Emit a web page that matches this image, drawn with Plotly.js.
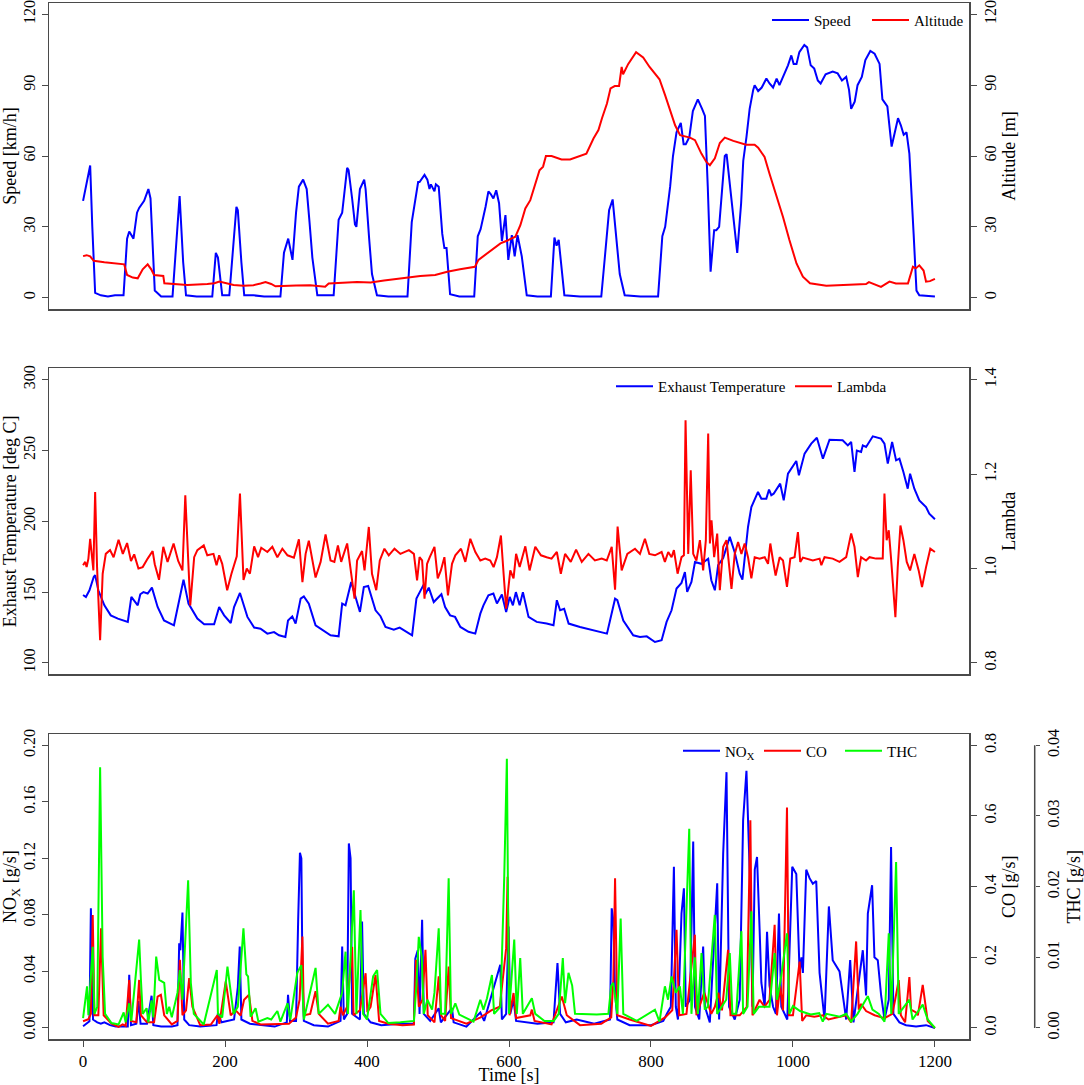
<!DOCTYPE html>
<html>
<head>
<meta charset="utf-8">
<script src="https://cdn.plot.ly/plotly-3.0.1.min.js"></script>
<style>
  body { margin: 0; background: #fff; }
  #plot { width: 1084px; height: 1085px; }
</style>
</head>
<body>
<div id="plot"></div>
<script>
// ---- panel 1: speed and altitude ----
var speedT = [0,4,10,13,17,25,35,45,57,62,65,71,76,79,86,92,95,101,110,126,136,141,145,160,182,187,190,196,206,216,218,223,227,240,255,278,283,289,295,300,304,310,315,319,323,330,345,353,360,365,372,374,379,383,385,390,396,398,403,407,414,430,445,457,463,468,472,474,481,485,488,490,495,497,501,506,509,512,517,530,551,556,560,567,571,574,578,582,586,590,595,599,604,608,612,618,625,640,659,664,667,670,678,700,730,735,741,746,752,756,763,785,810,816,820,827,831,836,842,846,849,854,859,866,872,876,880,884,889,892,896,900,904,906.5,911,915.6,921.5,927,930,934.5,939,944,946,951,956,962.6,967,972,977,981,986,993,997.7,1001,1005,1009,1016,1020,1025,1030,1035,1039,1046,1056,1063,1069,1075,1079,1082,1087,1091,1097,1102,1109,1115,1122,1126,1133,1139,1143,1148,1152,1156,1160,1164,1170,1174,1178,1190,1200];
var speedV = [41,47,56,30,2,1,0.5,1,1,25,28,25,36,38,41,46,42,3,0.5,0.5,43,15,1,0.5,0.5,19,17,1,1,38.5,37,15,1,1,0.5,0.5,19,25,16,36,47,50,46,32,17,1,1,1,33,36,55,54,42,31,30,46,50,46,25,10,1,0.5,0.5,0.5,32,41,49,49,52,50,46,48,45,48,47,27,21,21,1.5,0.5,0.5,26,29,38.5,45,44,42,45.5,40,24,35,16,26.5,17.5,26.5,17.5,1,0.5,0.5,25.5,22,24.5,1,0.5,0.5,17,37,41.6,24,10,1,0.5,0.5,26,30,47,60,70,74,65,65,68,79,84,80,77,47,11,28.6,28.6,30,45,60,60.8,48,36,19,40,58,68,80,88,90,87.5,89,92.8,90.7,89,92.8,90,93.5,98.4,102.6,99,99,104,107,106,98.4,97,92,90.7,94.6,95.8,95,92,93.5,88,80,83,90,93.5,100.6,104.5,103.3,99,84,81,64,69.5,76,73,69,70,61,27,3,1,0.8,0.5];
var altT = [0,5,10,15,30,58,62,70,77,84,91,96,100,113,114.5,147,175,185,192,200,212,226,231,240,250,257,265,271,300,320,341,346,386,405,424,447,456,475,496,513,531,552,557,569,588,597,609,616,623,630,636,643,648,652,660,674,686,709,719,726,731,738,743,749,755,758.7,760.7,768,779,789,798,808,812,820,827,834,841,855,862,871,878,883,890,897,904,916,934,946,951,960,967,979,986,995,1005,1014,1024,1047,1075,1103,1107,1124,1136,1145,1162,1169,1173,1178,1184,1187.5,1193,1200];
var altV = [17.6,18,17.5,15.6,15,14.1,9.6,8.5,8.2,12,14.1,12,9.6,9.2,6.1,5.4,5.8,6.1,6.8,6.3,5.4,5.0,5,5.3,6,6.6,5.8,4.8,5.2,5.3,4.6,6.0,6.6,6.4,7.3,8.2,8.5,9.2,9.6,11,12,13.1,16,18.8,23,24.1,25.8,30.7,37.8,41.3,47,54,55.5,60,60,58.5,58.5,61,67.4,71,76,82.2,88.6,89.6,89.6,97.7,94.6,99,104,101.7,97.7,93.7,92.5,85.7,79.4,73,68.8,67.8,66.7,61,57.5,56.1,59,65.5,67.8,66.4,64.8,64.8,63.5,59.6,52.5,41.3,34.2,24.4,14.5,8.9,6.1,5.0,5.3,5.8,6.6,4.6,6.8,6,6,13.1,12.4,13.7,11.5,6.8,7,8];

// ---- panel 2: exhaust temperature and lambda ----
var tempT = [0,4,9,15,17,21.5,30,39,49,63,68,77,80.6,85,91,97,105,114,128,138,141.5,148.5,161,170.6,184.6,191.7,198.7,208,212.7,221,231.5,241,250,259.6,269,276,285,288.7,294.7,299.4,306.5,311,318,327.5,339,348.6,360,365,369.7,377.7,383.8,390,395.5,401.6,412,419,426,437.7,446,456.5,463.5,469.6,475,480,482,487,494,498.7,504.8,510,517,524,531.5,543,552.5,559.6,564,571,578,583,590,596,601,605.5,609.7,615,619.6,627.5,639,653,662.7,667.4,672,677.7,684,700,719,738,742.3,749.4,752.6,761,775,784.5,794,805.6,815,822,829,836,843,847.8,851,857,862,871,880.6,885,890,894.6,901.7,911,918,925,928.8,936.7,941.4,950.8,955.5,962.5,966.3,969.5,972.8,977.5,982,987,993,1004.7,1008.4,1016.4,1025.8,1033.7,1042.2,1051.5,1070,1077.3,1082,1086.7,1090,1096,1098.4,1103,1112.5,1124,1128.9,1133.6,1139.7,1145.3,1150,1155.6,1161.7,1165,1171,1178,1187.5,1192,1200];
var tempV = [148,146.6,151.3,160.7,162,151.3,140.7,133.6,131.3,129,146.6,140.7,148.5,150,149,153.2,139.5,130,126.6,152.5,158.8,141.9,131.3,127.3,127.3,139.5,133.6,128.2,139.5,149.4,132.5,125,124.2,120.7,121.8,119.5,118.3,130,132.9,127.8,145.4,147,141.9,126.6,123,119.5,118.8,141.9,140.7,157.2,146.6,136,153.6,154.3,137.2,133,125.4,123.5,125,122,119.5,145.4,151.3,155.5,148.5,153.2,143,145.4,148.5,139.5,133.6,132.5,125.4,122,120.7,134.8,140.7,147.8,149,142,148.3,136,146.6,140.7,150,140.7,150,132.5,129,127.8,126.6,144.3,137.2,138.3,127.8,125.4,123,120.7,130,145.4,144.3,130,119.5,118.3,118.8,114.8,116,129,137.2,152.5,156.5,164.2,150.2,157.2,171.3,170,173.6,158.4,151.3,169,174,189,178,163,158.8,196,210,220.7,216,216,222.4,218.4,219.5,223,226.6,214.8,233.6,242.6,232.5,247.8,254.8,259,244.2,257.6,257.2,253.6,256,234.8,250,249,253.6,252.5,260,258.4,254.8,240.7,256,243,244.2,234.8,223,233.6,223,214.8,210,205.4,201.4];
var lamT = [0,3,5,7.5,10,12,14.5,17,19.7,24,27.6,32,38,43,50,56,62,67.5,72,78,84,91,98,101,107,113,119,127.5,134,140,144,151,156.5,161,170,175,183.7,188,191.7,196,203,209,216.5,221,226,230.6,235,241,246.5,251,259.6,266.6,273.7,280.7,288,297,301,304,309,313.5,318,323,327.5,334.6,341.6,348.6,354,359,363.6,372,379,382.4,386,393,396.5,402.5,407,413,418,424.5,430.6,438.7,447,459,466,470.5,474,477.6,481,484.6,488.4,495,499.6,504,509,514,519.7,524.4,532.4,538.5,545.5,552.6,559.6,566.6,573.6,578.3,583,588.6,592.4,596,601.8,606.4,610,615,623,629,637,645,653,660,667.4,673,679,687,694.5,702.5,711.9,721,730.6,737.7,744.7,749.4,753,758.7,766.7,777.5,784.5,791.5,797.6,805.6,815,819.6,824.3,829,832.3,837.5,843,846.4,848.7,852.5,856,859.5,864,868.9,873.5,877.3,880.6,883,885.3,889,893.3,897,901.7,906.4,913.4,918,922.7,927.4,932,936.7,941.4,946.1,953,960.2,964.9,968.1,971.9,975.6,981.3,986,991.6,996.3,1002.3,1007,1010.3,1014,1028,1037.5,1040,1044.5,1056,1065.6,1075,1082,1086.7,1091.4,1096,1103,1107.8,1117,1126.5,1128.9,1132,1135,1138.2,1144.3,1147.6,1151.4,1155.6,1160.3,1165,1171,1177.1,1181.8,1187.5,1193.5,1200];
var lamV = [1.007,1.014,1.003,1.021,1.063,1.031,0.996,1.162,1.003,0.848,0.989,1.031,1.039,1.024,1.061,1.031,1.054,1.016,1.030,1.0,1.003,1.021,1.037,1.009,0.976,1.046,1.014,1.053,1.016,0.996,1.155,0.922,1.024,1.039,1.049,1.028,1.031,1.007,1.028,1.010,0.954,0.989,1.026,1.159,0.976,1.0,0.989,1.047,1.024,1.044,1.035,1.046,1.024,1.042,1.028,1.023,1.047,1.062,0.971,1.031,1.059,1.017,0.981,1.014,1.072,1.017,1.014,1.049,1.014,1.053,0.975,0.936,1.017,1.037,0.996,1.088,0.989,0.954,1.017,1.042,1.028,1.042,1.031,1.039,1.031,0.975,1.024,1.017,0.936,1.010,1.024,1.046,0.979,0.996,1.024,0.943,1.010,1.028,1.042,1.014,1.063,1.035,1.017,1.021,1.017,1.003,1.024,1.070,0.989,0.915,0.996,0.979,1.031,1.003,1.047,0.996,1.046,1.028,1.024,1.021,1.035,0.989,1.031,1.014,1.040,1.014,1.031,1.017,1.021,1.017,1.046,0.955,1.089,0.996,1.031,1.042,1.031,1.063,1.031,1.028,1.035,1.014,1.035,1.024,1.039,0.989,1.024,1.028,1.314,1.031,1.208,1.031,1.017,1.060,0.996,1.060,1.286,1.053,1.102,1.024,1.074,0.954,1.046,1.060,0.957,1.031,1.056,1.031,1.053,1.024,0.979,1.024,1.021,1.024,1.010,1.053,1.017,0.985,1.024,1.017,0.961,1.021,1.024,1.077,1.014,1.023,1.017,1.021,1.007,1.024,1.021,1.014,1.024,1.074,1.046,0.982,1.024,1.017,1.024,1.021,1.021,1.159,1.060,1.081,1.021,0.897,1.003,1.091,1.060,1.014,0.996,1.031,0.996,0.961,1.003,1.042,1.035];

// ---- panel 3: emissions ----
var noxT = [0,5,9,11,14,20,25,30,38,46,63,65,67.5,75,78,81,90,96.5,99,110,125,133,135.4,137,140,142.5,149.5,165,188,190,195,212.7,218,220.7,223,235,250,270,287,288.7,291.5,300,303,305.5,307.5,309,311,325,345,362.7,365,367.4,372,374.4,376.8,379,390,393,395.5,405,420,447,466,468,471.5,474,477.6,480,489,501,504,519.7,522,540,559.6,565,587.7,590,596,599.4,601.8,606.4,610,640,662.7,668.3,672,680,695.5,720,742.3,744.7,747,749.4,752.6,770,800,817.3,823,828,832.3,835,838,843,846.4,849,855,859.5,862,868,873.5,876,882.9,893.3,896,901.7,906.4,910,918,925,929.8,934.5,939.2,943,946.2,949.4,953,955.5,960.2,963.5,967,972,976,980.3,983.6,992,999,1004.7,1009.4,1012,1014,1018.7,1023.4,1028,1032.8,1037.5,1044.5,1050.6,1056,1065.6,1075,1080.6,1085.3,1091.4,1098.4,1103,1105.5,1111.5,1114.8,1119.5,1124.2,1129,1135,1138.2,1141.5,1150,1159.3,1173.4,1187.5,1200];
var noxV = [0.0012,0.003,0.0047,0.0847,0.006,0.004,0.003,0.004,0.002,0.001,0.001,0.0376,0.002,0.003,0.019,0.003,0.003,0.0228,0.002,0.001,0.001,0.002,0.06,0.055,0.0817,0.006,0.002,0.001,0.002,0.0106,0.004,0.006,0.029,0.0576,0.006,0.003,0.002,0.001,0.004,0.0235,0.005,0.005,0.0765,0.124,0.12,0.04,0.005,0.002,0.001,0.005,0.0576,0.006,0.01,0.1306,0.12,0.01,0.006,0.0753,0.01,0.004,0.002,0.003,0.003,0.049,0.055,0.01,0.0765,0.01,0.005,0.014,0.004,0.014,0.004,0.001,0.011,0.005,0.0447,0.006,0.01,0.0718,0.01,0.02,0.005,0.003,0.004,0.046,0.01,0.004,0.006,0.003,0.006,0.0847,0.076,0.025,0.006,0.002,0.002,0.005,0.0106,0.015,0.114,0.015,0.006,0.081,0.0988,0.015,0.02,0.132,0.015,0.006,0.0576,0.015,0.004,0.1024,0.006,0.1235,0.181,0.015,0.006,0.02,0.147,0.182,0.109,0.015,0.112,0.121,0.07,0.032,0.015,0.068,0.03,0.015,0.01,0.081,0.015,0.006,0.114,0.109,0.039,0.05,0.039,0.112,0.106,0.102,0.104,0.039,0.006,0.086,0.048,0.04,0.006,0.048,0.004,0.027,0.055,0.023,0.081,0.101,0.05,0.048,0.023,0.006,0.02,0.128,0.01,0.004,0.002,0.001,0.002,0];
var coT = [0,7.5,11,13.6,16,21.5,25.3,29,40,50,55.8,60,65,67.5,75,79,81.5,90,100,105,109.6,114.3,125,133,136.4,140,145,149.5,154,165,180,189.3,192,201,208,215,222,226.8,233.8,238.5,250,270,290,300,305,309,311,320,327.5,332,345,360,362.7,366,372,379,381,390,398,400.5,405,412,417,430,450,466,469,473,478,482.3,485.5,495,501,504.3,510,515,518.3,540,560,575,587,596,598,600.8,606.4,610,630,632.2,636,660,674.4,681.4,700,730,744,747,749.4,752.6,770,800,820,830,836,839.8,850,861.8,864,875,885,890,895,900,908.6,912,925,935,940,943,953,960,967,974.2,977.5,982,986,991.6,994.4,1000,1009.4,1013,1018.7,1030,1042,1050,1075,1082,1089,1092.8,1096,1103,1115,1129,1140,1144,1149,1152,1158,1164,1166.4,1173.4,1176,1182.8,1189.8,1200];
var coV = [0.019,0.025,0.04,0.32,0.036,0.036,0.282,0.036,0.012,0.003,0.01,0.006,0.136,0.02,0.016,0.136,0.036,0.016,0.016,0.089,0.094,0.036,0.01,0.02,0.193,0.036,0.05,0.141,0.06,0.008,0.01,0.036,0.012,0.132,0.036,0.05,0.035,0.08,0.094,0.02,0.01,0.012,0.012,0.03,0.08,0.259,0.036,0.04,0.104,0.04,0.012,0.02,0.06,0.036,0.06,0.23,0.036,0.05,0.155,0.045,0.06,0.15,0.02,0.012,0.008,0.01,0.193,0.06,0.08,0.221,0.036,0.016,0.146,0.036,0.02,0.174,0.028,0.012,0.03,0.05,0.06,0.226,0.428,0.036,0.099,0.028,0.036,0.052,0.02,0.01,0.089,0.036,0.008,0.012,0.03,0.136,0.424,0.036,0.024,0.006,0.03,0.05,0.278,0.036,0.04,0.264,0.036,0.1,0.04,0.06,0.1,0.05,0.221,0.036,0.036,0.06,0.588,0.036,0.08,0.06,0.08,0.292,0.036,0.12,0.05,0.624,0.036,0.036,0.188,0.02,0.036,0.032,0.036,0.024,0.036,0.016,0.245,0.052,0.068,0.048,0.036,0.028,0.04,0.08,0.136,0.036,0.016,0.144,0.052,0.044,0.036,0.122,0.02,0];
var thcT = [0,5.6,7.5,13.6,16,20,24,27.6,31,40,50,57.2,60,65,68,79,81.5,84,89.5,92,96.5,99,103,107.3,114.3,118,121.4,125,133,136.4,140,148,151.8,156,170,188.4,190,196,203.4,208,212,218,225.9,230,232.4,236,243,247,259.6,265,273.7,278,288,292,301.8,307.4,311,327.5,332,345,355,365,369.7,373,381.4,385,390.8,394.5,400,408.6,414.2,419,430,447,466,469.6,472.9,477,480,485,491.6,495,501,504.3,510,515,518.3,524.4,530,550,559.6,564,569,576,579,588,593.3,597,600,607.4,611,615.8,619.5,632.2,637,650,663,670,675.8,679,683.8,689,693,723.6,740,744,747,752.6,757.3,761,780,805.6,812,819.6,824,829,835,840.7,845,853.9,857,861.8,866,871.2,875.8,880,889.9,893.2,900,906,911,914.7,920,927.4,929.8,936,941.4,944.7,952,960,967,974.2,977.5,983,991.6,995,1000,1010,1025,1037,1042,1047,1066,1075,1082,1091,1105.5,1112,1121,1129,1135,1138.5,1145.3,1149,1164,1168.5,1182.8,1189.8,1200];
var thcV = [0.0014,0.0059,0.0018,0.0115,0.002,0.003,0.0369,0.01,0.002,0.0007,0.0005,0.0022,0.0008,0.0035,0.001,0.0125,0.0068,0.002,0.0028,0.0008,0.0039,0.0015,0.0101,0.0068,0.0064,0.002,0.003,0.0015,0.005,0.0082,0.004,0.0209,0.0064,0.002,0.0005,0.0082,0.002,0.0015,0.0087,0.005,0.002,0.003,0.0141,0.0076,0.0073,0.0016,0.0028,0.0009,0.0014,0.0012,0.0024,0.0009,0.0035,0.0012,0.0078,0.0089,0.0012,0.0085,0.002,0.0033,0.002,0.005,0.0108,0.002,0.0195,0.002,0.0167,0.002,0.0012,0.0073,0.0082,0.002,0.0007,0.0008,0.001,0.006,0.0129,0.0101,0.002,0.004,0.0026,0.005,0.0141,0.002,0.002,0.0212,0.002,0.0035,0.0019,0.0009,0.004,0.0026,0.0042,0.0075,0.002,0.003,0.0214,0.0381,0.002,0.0125,0.002,0.0099,0.002,0.0042,0.002,0.001,0.001,0.002,0.0099,0.0035,0.0078,0.006,0.002,0.0019,0.002,0.006,0.0064,0.002,0.0155,0.002,0.001,0.0026,0.0009,0.0059,0.004,0.0073,0.005,0.0059,0.002,0.0282,0.002,0.01,0.002,0.0106,0.0026,0.003,0.016,0.002,0.003,0.004,0.0106,0.002,0.002,0.0137,0.002,0.003,0.0165,0.002,0.003,0.003,0.003,0.0106,0.004,0.007,0.0134,0.002,0.0031,0.0024,0.0019,0.0021,0.0009,0.002,0.0016,0.002,0.0009,0.002,0.0045,0.0026,0.002,0.0009,0.0134,0.002,0.0235,0.002,0.004,0.0012,0.0033,0.0012,0];

var BLUE = "#0000FF", RED = "#FF0000", GREEN = "#00FF00";
var FRAME = "#4a4a4a";
var FONT = "Liberation Serif";

function line(x, y, name, color, xa, ya, leg) {
  return {
    x: x, y: y, name: name, type: "scatter", mode: "lines",
    xaxis: xa, yaxis: ya, legend: leg,
    line: { color: color, width: 2 }
  };
}

var data = [
  line(speedT, speedV, "Speed", BLUE, "x", "y", "legend"),
  line(altT, altV, "Altitude", RED, "x", "y2", "legend"),
  line(tempT, tempV, "Exhaust Temperature", BLUE, "x2", "y3", "legend2"),
  line(lamT, lamV, "Lambda", RED, "x2", "y4", "legend2"),
  line(noxT, noxV, "NO<sub>X</sub>", BLUE, "x3", "y5", "legend3"),
  line(coT, coV, "CO", RED, "x3", "y6", "legend3"),
  line(thcT, thcV, "THC", GREEN, "x3", "y7", "legend3")
];

var xdom = [49 / 1084, 969 / 1084];
var d1 = [(1085 - 309) / 1085, (1085 - 3) / 1085];
var d2 = [(1085 - 674.3) / 1085, (1085 - 368.3) / 1085];
var d3 = [(1085 - 1039.3) / 1085, (1085 - 734) / 1085];

function xax(anchor, labels) {
  return {
    domain: xdom, anchor: anchor, range: [-48, 1248],
    showgrid: false, zeroline: false,
    showline: true, mirror: true, linecolor: FRAME, linewidth: 1.5,
    ticks: labels ? "outside" : "", ticklen: 6, tickcolor: FRAME,
    showticklabels: labels,
    tickvals: [0, 200, 400, 600, 800, 1000, 1200],
    tickfont: { size: 17 }
  };
}

function yax(extra) {
  var a = {
    showgrid: false, zeroline: false,
    showline: true, linecolor: FRAME, linewidth: 1.5,
    ticks: "outside", ticklen: 6, tickcolor: FRAME,
    tickangle: -90, tickfont: { size: 16 },
    ticklabeloverflow: "allow"
  };
  for (var k in extra) a[k] = extra[k];
  return a;
}

function legendAt(x, y, w) {
  return {
    x: x, y: y, xanchor: "left", yanchor: "top",
    orientation: "h", bgcolor: "rgba(0,0,0,0)",
    itemwidth: 37, entrywidth: w, entrywidthmode: "pixels",
    font: { family: FONT, size: 15, color: "#000" }
  };
}

var layout = {
  width: 1084, height: 1085,
  margin: { l: 0, r: 0, t: 0, b: 0 },
  paper_bgcolor: "#fff", plot_bgcolor: "rgba(0,0,0,0)",
  font: { family: FONT, size: 16, color: "#000" },
  showlegend: true,
  legend: legendAt(767 / 1084, 0.9966, 48),
  legend2: legendAt(611 / 1084, 0.659, 127),
  legend3: legendAt(678 / 1084, 0.323, 29),
  xaxis: xax("y", false),
  xaxis2: xax("y3", false),
  xaxis3: (function () {
    var a = xax("y5", true);
    a.title = { text: "Time [s]", font: { size: 18 }, standoff: 3 };
    return a;
  })(),
  yaxis: yax({
    domain: d1, anchor: "x", range: [-4.8, 124.8],
    tickvals: [0, 30, 60, 90, 120], mirror: true,
    title: { text: "Speed [km/h]", font: { size: 18 } }
  }),
  yaxis2: yax({
    overlaying: "y", side: "right", anchor: "x", range: [-4.8, 124.8],
    tickvals: [0, 30, 60, 90, 120],
    title: { text: "Altitude [m]", font: { size: 18 }, standoff: 4 }
  }),
  yaxis3: yax({
    domain: d2, anchor: "x2", range: [92, 308],
    tickvals: [100, 150, 200, 250, 300], mirror: true,
    title: { text: "Exhaust Temperature [deg C]", font: { size: 18 } }
  }),
  yaxis4: yax({
    overlaying: "y3", side: "right", anchor: "x2", range: [0.776, 1.424],
    tickvals: [0.8, 1.0, 1.2, 1.4], tickformat: ".1f",
    title: { text: "Lambda", font: { size: 18 }, standoff: 4 }
  }),
  yaxis5: yax({
    domain: d3, anchor: "x3", range: [-0.008, 0.208],
    tickvals: [0, 0.04, 0.08, 0.12, 0.16, 0.2], tickformat: ".2f", mirror: true,
    title: { text: "NO<sub>X</sub> [g/s]", font: { size: 18 } }
  }),
  yaxis6: yax({
    overlaying: "y5", side: "right", anchor: "x3", range: [-0.032, 0.832],
    tickvals: [0, 0.2, 0.4, 0.6, 0.8], tickformat: ".1f",
    title: { text: "CO [g/s]", font: { size: 18 }, standoff: 4 }
  }),
  yaxis7: yax({
    overlaying: "y5", side: "right", anchor: "free", position: 1034.7 / 1084,
    range: [-0.0016, 0.0416], showline: false, ticklen: 4,
    tickvals: [0, 0.01, 0.02, 0.03, 0.04], tickformat: ".2f",
    title: { text: "THC [g/s]", font: { size: 18 } }
  }),
  // THC axis line only spans its tick range, like the original
  shapes: [{
    type: "line", xref: "paper", yref: "y7",
    x0: 1034.7 / 1084, x1: 1034.7 / 1084, y0: 0, y1: 0.04,
    line: { color: FRAME, width: 1.5 }
  }]
};

Plotly.newPlot("plot", data, layout, { displayModeBar: false, staticPlot: true });
</script>
</body>
</html>
